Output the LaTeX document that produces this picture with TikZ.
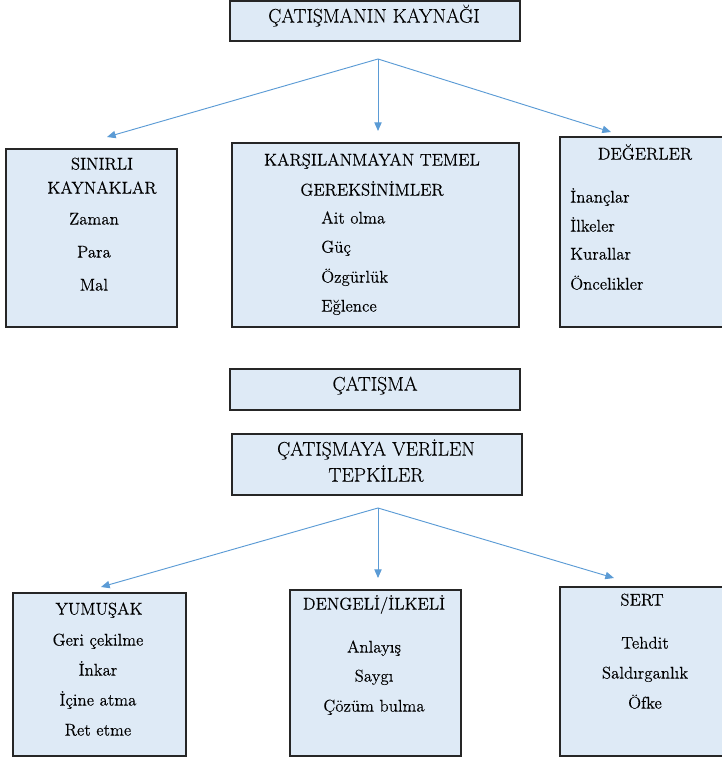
\documentclass[tikz,border=0pt]{standalone}
\usepackage{fontspec}
\setmainfont{Latin Modern Roman}[FakeBold=0.15]
\usetikzlibrary{arrows.meta,fit,shadows}

\definecolor{boxfill}{HTML}{DEEAF6}
\definecolor{boxline}{HTML}{262626}
\definecolor{linkblue}{HTML}{5B9BD5}

\tikzset{
  box/.style={draw=boxline, line width=1pt, fill=boxfill, inner sep=0pt,
    drop shadow={shadow xshift=0.9pt, shadow yshift=-0.9pt, fill=black, opacity=0.45}},
  head/.style={inner sep=0pt, text height=0.68em, text depth=0pt,
    font=\rmfamily\fontsize{14.7}{17}\selectfont},
  label/.style={inner sep=0pt, text height=0.68em, text depth=0pt,
    font=\rmfamily\fontsize{12.7}{15}\selectfont},
  link/.style={draw=linkblue, line width=0.7pt,
    -{Triangle[length=6.5pt,width=5.5pt]}},
}

\begin{document}
\begin{tikzpicture}[x=0.75pt, y=-0.75pt]
  \useasboundingbox (0,0) rectangle (721,760);

  % ---- sources of conflict ----
  \node[box, fit={(230,1)(520,41)}] (source) {};
  \node[head] (sourcetitle) at (374,18) {ÇATIŞMANIN KAYNAĞI};

  \node[box, fit={(6,149)(177,327)}] (limited) {};
  \node[label] (limh1) at (102,165) {SINIRLI};
  \node[label] (limh2) at (102,189) {KAYNAKLAR};
  \node[label] (lim1) at (94,220) {Zaman};
  \node[label] (lim2) at (94,253) {Para};
  \node[label] (lim3) at (94,286) {Mal};

  \node[box, fit={(232,143)(519,327)}] (needs) {};
  \node[label] (needh1) at (372,161) {KARŞILANMAYAN TEMEL};
  \node[label] (needh2) at (372,191) {GEREKSİNİMLER};
  \node[label, anchor=west] (need1) at (321,219) {Ait olma};
  \node[label, anchor=west] (need2) at (321,248) {Güç};
  \node[label, anchor=west] (need3) at (321,278) {Özgürlük};
  \node[label, anchor=west] (need4) at (321,307) {Eğlence};

  \node[box, fit={(560,137)(728,327)}] (values) {};
  \node[label] (valh) at (645,155) {DEĞERLER};
  \node[label, anchor=west] (val1) at (570,198) {İnançlar};
  \node[label, anchor=west] (val2) at (570,227) {İlkeler};
  \node[label, anchor=west] (val3) at (570,255) {Kurallar};
  \node[label, anchor=west] (val4) at (570,285) {Öncelikler};

  \coordinate (fork1) at (378,59);
  \coordinate (tip1a) at (107,137);
  \coordinate (tip1b) at (378,131);
  \coordinate (tip1c) at (611,132);
  \draw[link] (fork1) -- (tip1a);
  \draw[link] (fork1) -- (tip1b);
  \draw[link] (fork1) -- (tip1c);

  % ---- conflict ----
  \node[box, fit={(230,369)(520,410)}] (conflict) {};
  \node[head] (conflicttitle) at (375,386) {ÇATIŞMA};

  % ---- responses to conflict ----
  \node[box, fit={(232,434)(522,495)}] (responses) {};
  \node[head] (resp1) at (376,451) {ÇATIŞMAYA VERİLEN};
  \node[head] (resp2) at (376,477) {TEPKİLER};

  \node[box, fit={(13,593)(186,756)}] (soft) {};
  \node[label] (softh) at (99,610) {YUMUŞAK};
  \node[label] (soft1) at (98,641) {Geri çekilme};
  \node[label] (soft2) at (98,671) {İnkar};
  \node[label] (soft3) at (98,701) {İçine atma};
  \node[label] (soft4) at (98,731) {Ret etme};

  \node[box, fit={(290,590)(461,756)}] (balanced) {};
  \node[label] (balh) at (374,605) {DENGELİ/İLKELİ};
  \node[label] (bal1) at (374,648) {Anlayış};
  \node[label] (bal2) at (374,677) {Saygı};
  \node[label] (bal3) at (374,707) {Çözüm bulma};

  \node[box, fit={(560,587)(728,756)}] (hard) {};
  \node[label] (hardh) at (642,601) {SERT};
  \node[label] (hard1) at (645,644) {Tehdit};
  \node[label] (hard2) at (645,674) {Saldırganlık};
  \node[label] (hard3) at (645,704) {Öfke};

  \coordinate (fork2) at (378,508);
  \coordinate (tip2a) at (101,587);
  \coordinate (tip2b) at (378,578);
  \coordinate (tip2c) at (614,578);
  \draw[link] (fork2) -- (tip2a);
  \draw[link] (fork2) -- (tip2b);
  \draw[link] (fork2) -- (tip2c);
\end{tikzpicture}
\end{document}
